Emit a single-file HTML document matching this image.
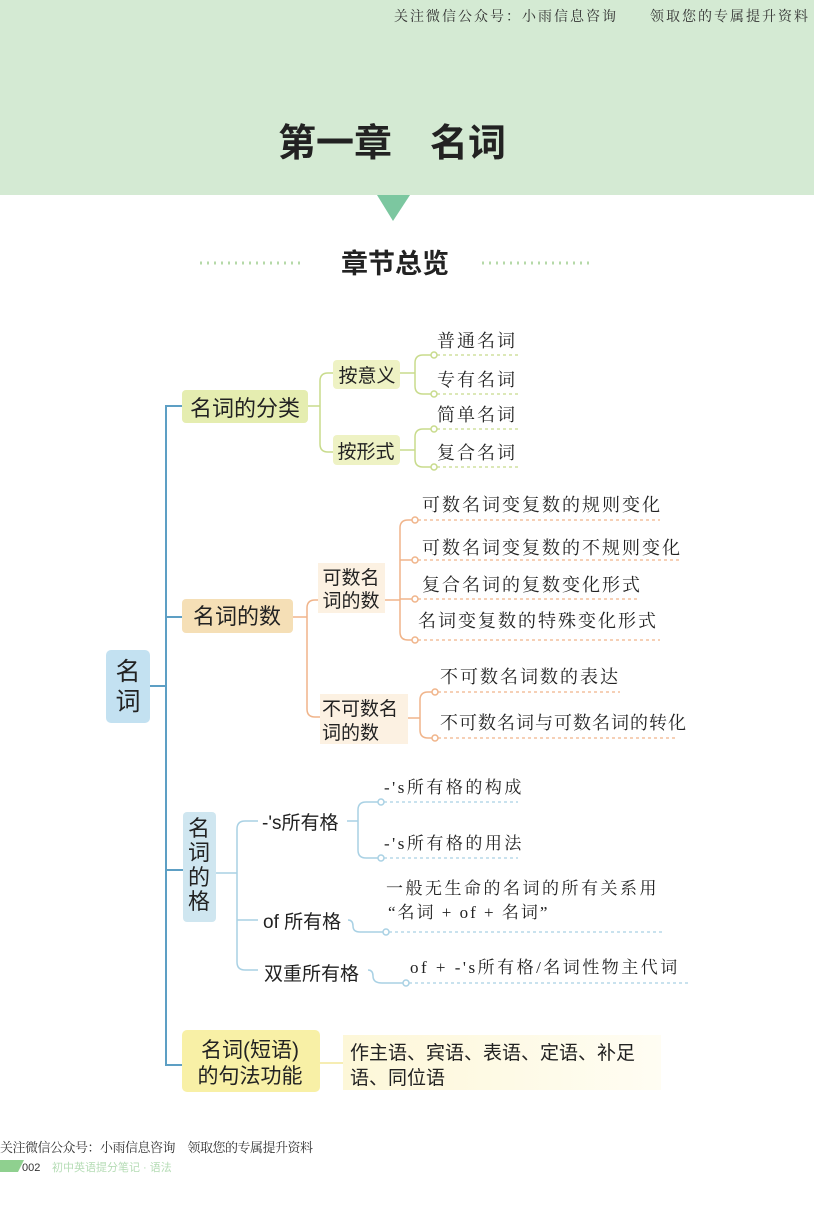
<!DOCTYPE html>
<html><head><meta charset="utf-8"><style>
html,body{margin:0;padding:0;background:#fff;}
svg{display:block;}
.s{font-family:"Liberation Sans","Noto Sans CJK SC",sans-serif;}
.h{font-family:"Liberation Serif","Noto Serif CJK SC",serif;}
</style></head><body>
<svg width="814" height="1213" viewBox="0 0 814 1213" xmlns="http://www.w3.org/2000/svg">
<rect x="0" y="0" width="814" height="195" fill="#d4ead3"/>
<text x="810" y="21" text-anchor="end" class="h" font-size="14" letter-spacing="2" fill="#333">关注微信公众号：小雨信息咨询　　领取您的专属提升资料</text>
<text x="392" y="156" text-anchor="middle" class="s" font-size="38" font-weight="bold" fill="#222">第一章　名词</text>
<polygon points="377,195 410,195 393,221" fill="#7cc7a0"/>
<text x="395" y="273" text-anchor="middle" class="s" font-size="27" font-weight="bold" fill="#222">章节总览</text>
<line x1="200" y1="263" x2="305" y2="263" stroke="#b5d9a8" stroke-width="3" stroke-dasharray="2,5"/>
<line x1="482" y1="263" x2="590" y2="263" stroke="#b5d9a8" stroke-width="3" stroke-dasharray="2,5"/>

<g fill="none" stroke="#5d9fc4" stroke-width="2">
<path d="M183 406 H166 V1065 H183"/>
<path d="M166 617 H183"/>
<path d="M150 686 H166"/>
<path d="M166 870 H183"/>
</g>
<rect x="106" y="650" width="44" height="73" rx="5" fill="#c3e1f1"/>
<text x="128" y="680" text-anchor="middle" class="s" font-size="25" fill="#222">名</text>
<text x="128" y="710" text-anchor="middle" class="s" font-size="25" fill="#222">词</text>

<rect x="182" y="390" width="126" height="33" rx="4" fill="#e5edb0"/>
<text x="245" y="416" text-anchor="middle" class="s" font-size="22" fill="#222">名词的分类</text>
<g fill="none" stroke="#c8db8c" stroke-width="1.5">
<path d="M308 406 H320"/>
<path d="M334 373 H328 Q320 373 320 381 V444 Q320 452 328 452 H334"/>
<path d="M400 373 H415"/><path d="M400 450 H415"/>
<path d="M432 355 H423 Q415 355 415 363 V386 Q415 394 423 394 H432"/>
<path d="M432 429 H423 Q415 429 415 437 V459 Q415 467 423 467 H432"/>
</g>
<g fill="#fff" stroke="#c8db8c" stroke-width="1.5">
<circle cx="434" cy="355" r="3"/><circle cx="434" cy="394" r="3"/><circle cx="434" cy="429" r="3"/><circle cx="434" cy="467" r="3"/>
</g>
<g stroke="#c8db8c" stroke-width="1.2" stroke-dasharray="3,3">
<line x1="437" y1="355" x2="518" y2="355"/><line x1="437" y1="394" x2="518" y2="394"/><line x1="437" y1="429" x2="518" y2="429"/><line x1="437" y1="467" x2="518" y2="467"/>
</g>
<rect x="333" y="360" width="67" height="29" rx="4" fill="#eef2c4"/>
<text x="367" y="382" text-anchor="middle" class="s" font-size="19" fill="#222">按意义</text>
<rect x="333" y="435" width="67" height="30" rx="4" fill="#eef2c4"/>
<text x="366" y="458" text-anchor="middle" class="s" font-size="19" fill="#222">按形式</text>
<g class="h" font-size="18" letter-spacing="2" fill="#222">
<text x="437" y="347">普通名词</text><text x="437" y="386">专有名词</text><text x="437" y="421">简单名词</text><text x="437" y="459">复合名词</text>
</g>

<rect x="182" y="599" width="111" height="34" rx="4" fill="#f5dfb6"/>
<text x="237" y="624" text-anchor="middle" class="s" font-size="22" fill="#222">名词的数</text>
<g fill="none" stroke="#f0b48a" stroke-width="1.5">
<path d="M293 617 H307"/>
<path d="M318 600 H315 Q307 600 307 608 V709 Q307 717 315 717 H320"/>
<path d="M385 600 H400"/>
<path d="M412 520 H408 Q400 520 400 528 V632 Q400 640 408 640 H412"/>
<path d="M400 560 H412"/><path d="M400 599 H412"/>
<path d="M408 718 H420"/>
<path d="M432 692 H428 Q420 692 420 700 V730 Q420 738 428 738 H432"/>
</g>
<g fill="#fff" stroke="#f0b48a" stroke-width="1.5">
<circle cx="415" cy="520" r="3"/><circle cx="415" cy="560" r="3"/><circle cx="415" cy="599" r="3"/><circle cx="415" cy="640" r="3"/>
<circle cx="435" cy="692" r="3"/><circle cx="435" cy="738" r="3"/>
</g>
<g stroke="#f0b48a" stroke-width="1.2" stroke-dasharray="3,3">
<line x1="418" y1="520" x2="660" y2="520"/><line x1="418" y1="560" x2="680" y2="560"/><line x1="418" y1="599" x2="640" y2="599"/><line x1="418" y1="640" x2="660" y2="640"/>
<line x1="438" y1="692" x2="620" y2="692"/><line x1="438" y1="738" x2="675" y2="738"/>
</g>
<rect x="318" y="563" width="67" height="50" fill="#fcf1e2"/>
<text x="351" y="584" text-anchor="middle" class="s" font-size="19" fill="#222">可数名</text>
<text x="351" y="607" text-anchor="middle" class="s" font-size="19" fill="#222">词的数</text>
<rect x="320" y="694" width="88" height="50" fill="#fcf1e2"/>
<text x="322" y="715" class="s" font-size="19" fill="#222">不可数名</text>
<text x="322" y="739" class="s" font-size="19" fill="#222">词的数</text>
<g class="h" font-size="18" fill="#222">
<text x="422" y="511" letter-spacing="2">可数名词变复数的规则变化</text>
<text x="422" y="554" letter-spacing="2">可数名词变复数的不规则变化</text>
<text x="422" y="591" letter-spacing="2">复合名词的复数变化形式</text>
<text x="418" y="627" letter-spacing="2">名词变复数的特殊变化形式</text>
<text x="440" y="683" letter-spacing="2">不可数名词数的表达</text>
<text x="440" y="729" letter-spacing="1">不可数名词与可数名词的转化</text>
</g>

<rect x="183" y="812" width="33" height="110" rx="4" fill="#cfe6f0"/>
<g class="s" font-size="22" fill="#222" text-anchor="middle">
<text x="199" y="836">名</text><text x="199" y="860">词</text><text x="199" y="885">的</text><text x="199" y="909">格</text>
</g>
<g fill="none" stroke="#a9d1e4" stroke-width="1.5">
<path d="M216 873 H237"/>
<path d="M258 821 H245 Q237 821 237 829 V962 Q237 970 245 970 H258"/>
<path d="M237 920 H258"/>
<path d="M347 821 H358"/>
<path d="M378 802 H366 Q358 802 358 810 V850 Q358 858 366 858 H378"/>
<path d="M348 920 Q353 920 353 926 Q353 932 360 932 H383"/>
<path d="M368 970 Q373 970 373 976 Q373 983 382 983 H403"/>
</g>
<g fill="#fff" stroke="#a9d1e4" stroke-width="1.5">
<circle cx="381" cy="802" r="3"/><circle cx="381" cy="858" r="3"/><circle cx="386" cy="932" r="3"/><circle cx="406" cy="983" r="3"/>
</g>
<g stroke="#a9d1e4" stroke-width="1.2" stroke-dasharray="3,3">
<line x1="384" y1="802" x2="518" y2="802"/><line x1="384" y1="858" x2="518" y2="858"/>
<line x1="389" y1="932" x2="665" y2="932"/><line x1="409" y1="983" x2="690" y2="983"/>
</g>
<g class="s" font-size="19" fill="#222">
<text x="262" y="829">-'s所有格</text><text x="263" y="928">of 所有格</text><text x="264" y="980">双重所有格</text>
</g>
<g class="h" font-size="17" fill="#222">
<text x="384" y="793" letter-spacing="2.5">-'s所有格的构成</text>
<text x="384" y="849" letter-spacing="2.5">-'s所有格的用法</text>
<text x="386" y="894" letter-spacing="2.5">一般无生命的名词的所有关系用</text>
<text x="388" y="918" letter-spacing="2">“名词 + of + 名词”</text>
<text x="410" y="973" letter-spacing="2.5">of + -'s所有格/名词性物主代词</text>
</g>

<rect x="182" y="1030" width="138" height="62" rx="5" fill="#f8f0a6"/>
<text x="250" y="1057" text-anchor="middle" class="s" font-size="21" fill="#222">名词(短语)</text>
<text x="250" y="1083" text-anchor="middle" class="s" font-size="21" fill="#222">的句法功能</text>
<line x1="320" y1="1063" x2="345" y2="1063" stroke="#f3e79a" stroke-width="1.5"/>
<defs><linearGradient id="g" x1="0" x2="1"><stop offset="0" stop-color="#fdf7d8"/><stop offset="1" stop-color="#fffdf3"/></linearGradient></defs>
<rect x="343" y="1035" width="318" height="55" fill="url(#g)"/>
<text x="350" y="1059" class="s" font-size="19" fill="#222">作主语、宾语、表语、定语、补足</text>
<text x="350" y="1084" class="s" font-size="19" fill="#222">语、同位语</text>

<text x="0" y="1152" class="h" font-size="13" letter-spacing="-0.5" fill="#333">关注微信公众号：小雨信息咨询　领取您的专属提升资料</text>
<polygon points="0,1160 24,1160 18,1172 0,1172" fill="#8fd08f"/>
<text x="22" y="1171" class="s" font-size="11" fill="#333">002</text>
<text x="52" y="1171" class="s" font-size="11" fill="#b5dcb5">初中英语提分笔记 · 语法</text>
</svg>
</body></html>
